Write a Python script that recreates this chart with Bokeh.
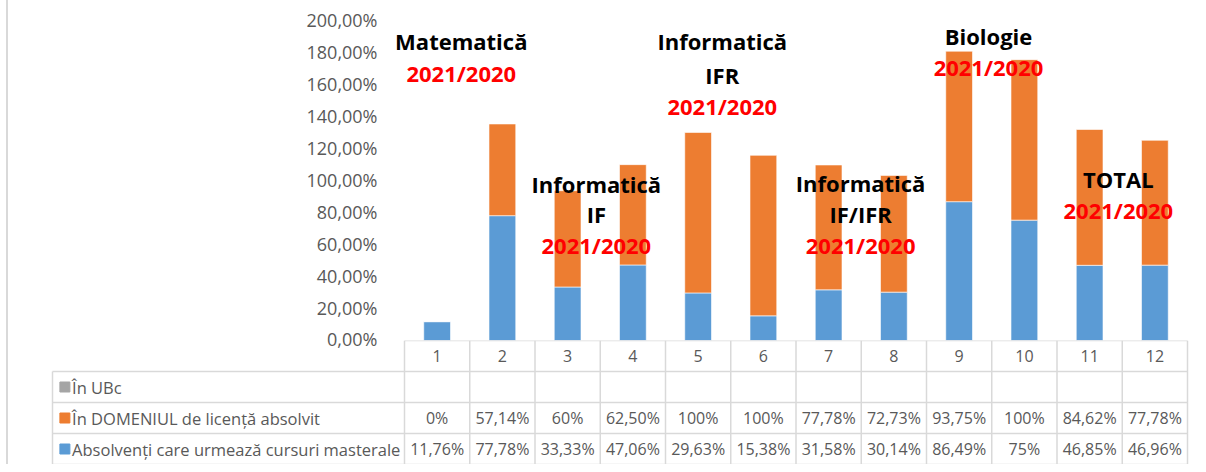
from bokeh.plotting import figure
from bokeh.models import Range1d, FixedTicker, CustomJSTickFormatter, Label, ColumnDataSource
from bokeh.embed import file_html
from bokeh.resources import INLINE
from bokeh.core.properties import value

# ---------------- data ----------------
categories = [str(i) for i in range(1, 13)]
absolventi = [11.76, 77.78, 33.33, 47.06, 29.63, 15.38, 31.58, 30.14, 86.49, 75.0, 46.85, 46.96]
domeniu = [0.0, 57.14, 60.0, 62.50, 100.0, 100.0, 77.78, 72.73, 93.75, 100.0, 84.62, 77.78]
ubc = [None] * 12
series_names = ["În UBc", "În DOMENIUL de licență absolvit",
                "Absolvenți care urmează cursuri masterale"]
y_ticks = [0, 20, 40, 60, 80, 100, 120, 140, 160, 180, 200]

# overlay annotations: (text, colour, x, y)
annotations = [
    ("Matematică", "#000000", 1.37, 186.3), ("2021/2020", "#ff0000", 1.37, 166.5),
    ("Informatică", "#000000", 5.37, 186.3), ("IFR", "#000000", 5.37, 165.7),
    ("2021/2020", "#ff0000", 5.37, 145.8),
    ("Informatică", "#000000", 3.44, 97.8), ("IF", "#000000", 3.44, 79.0),
    ("2021/2020", "#ff0000", 3.44, 59.2),
    ("Informatică", "#000000", 7.49, 98.4), ("IF/IFR", "#000000", 7.49, 79.0),
    ("2021/2020", "#ff0000", 7.49, 59.2),
    ("Biologie", "#000000", 9.45, 190.0), ("2021/2020", "#ff0000", 9.45, 170.1),
    ("TOTAL", "#000000", 11.44, 100.9), ("2021/2020", "#ff0000", 11.44, 81.6),
]

# ---------------- styles ----------------
FONT = "Open Sans"
BLUE = "#5b9bd5"
ORANGE = "#ed7d31"
GRAY = "#a5a5a5"
TXT = "#595959"
GRID = "#d9d9d9"
TOTAL_W = 1198
COL_PX = 783 / 12.0           # px per category column
COL0 = 404                    # px from figure left to column-1 left edge
FRAME_L = 388                 # px from figure left to bar-plot frame
LABEL_LEFT = 0.5 - (404 - 52) / COL_PX
BG = "linear-gradient(90deg, transparent 6px, #d9d9d9 6px, #d9d9d9 8px, transparent 8px)"


def fmt(v):
    if v is None:
        return ""
    if abs(v - round(v)) < 1e-9:
        return "%d%%" % round(v)
    return ("%.2f" % v).replace(".", ",") + "%"


# ---------------- bar chart ----------------
xs = list(range(1, 13))
src = ColumnDataSource(dict(x=xs, absolventi=absolventi, domeniu=domeniu))

x_start = 0.5 - (COL0 - FRAME_L) / COL_PX
x_end = 0.5 + (TOTAL_W - COL0) / COL_PX
p = figure(width=TOTAL_W, height=350, x_range=Range1d(x_start, x_end), y_range=Range1d(0, 200),
           output_backend="svg", toolbar_location=None, x_axis_location=None,
           min_border_left=FRAME_L, min_border_right=0,
           min_border_top=19, min_border_bottom=10, styles={"background": BG})
p.outline_line_color = None
p.border_fill_color = None
p.grid.visible = False
p.vbar_stack(["absolventi", "domeniu"], x="x", width=0.41, source=src,
             color=[BLUE, ORANGE], line_color="white", line_width=0.6)

ax = p.yaxis[0]
ax.ticker = FixedTicker(ticks=y_ticks)
ax.formatter = CustomJSTickFormatter(code="return tick.toFixed(2).replace('.', ',') + '%';")
ax.axis_line_color = None
ax.major_tick_line_color = None
ax.minor_tick_line_color = None
ax.major_label_standoff = 5
ax.major_label_text_font = FONT
ax.major_label_text_font_size = "18px"
ax.major_label_text_color = TXT

for txt, col, x, y in annotations:
    p.add_layout(Label(x=x, y=y, text=txt, text_color=col, text_align="center",
                       text_baseline="middle", text_font=FONT, text_font_size="22px",
                       text_font_style="bold"))

# ---------------- data table ----------------
n = len(categories)
x_left_edge = 0.5 - COL0 / COL_PX
x_right_edge = x_left_edge + TOTAL_W / COL_PX
t = figure(width=TOTAL_W, height=124, x_range=Range1d(x_left_edge, x_right_edge),
           y_range=Range1d(4, 0), output_backend="svg", toolbar_location=None,
           x_axis_location=None, y_axis_location=None,
           min_border_left=0, min_border_right=0, min_border_top=0, min_border_bottom=0,
           styles={"background": BG, "margin-top": "-10px"})
t.outline_line_color = None
t.border_fill_color = None
t.background_fill_color = None
t.grid.visible = False

seg_x0, seg_y0, seg_x1, seg_y1 = [], [], [], []
for i in range(n + 1):
    seg_x0.append(0.5 + i); seg_x1.append(0.5 + i); seg_y0.append(0); seg_y1.append(4)
seg_x0.append(LABEL_LEFT); seg_x1.append(LABEL_LEFT); seg_y0.append(1); seg_y1.append(4)
seg_x0.append(0.5); seg_x1.append(n + 0.5); seg_y0.append(0); seg_y1.append(0)
for r in range(1, 5):
    seg_x0.append(LABEL_LEFT); seg_x1.append(n + 0.5); seg_y0.append(r); seg_y1.append(r)
t.segment(x0=seg_x0, y0=seg_y0, x1=seg_x1, y1=seg_y1, line_color=GRID, line_width=1.5)

t.text(x=xs, y=[0.5] * n, text=categories, text_align="center", text_baseline="middle",
       text_font=value(FONT), text_font_size="16px", text_color=TXT)

rows = [ubc, domeniu, absolventi]
colors = [GRAY, ORANGE, BLUE]
for r, (vals, name, c) in enumerate(zip(rows, series_names, colors)):
    yc = 1.5 + r
    t.text(x=xs, y=[yc] * n, text=[fmt(v) for v in vals], text_align="center",
           text_baseline="middle", text_font=value(FONT), text_font_size="16px",
           text_color=TXT)
    t.scatter(x=[LABEL_LEFT + 0.19], y=[yc], marker="square", size=10, color=c)
    t.text(x=[LABEL_LEFT + 0.30], y=[yc], text=[name], text_align="left",
           text_baseline="middle", text_font=value(FONT), text_font_size="16.5px",
           text_color=TXT)

open("out.html", "w").write(file_html([p, t], INLINE))
